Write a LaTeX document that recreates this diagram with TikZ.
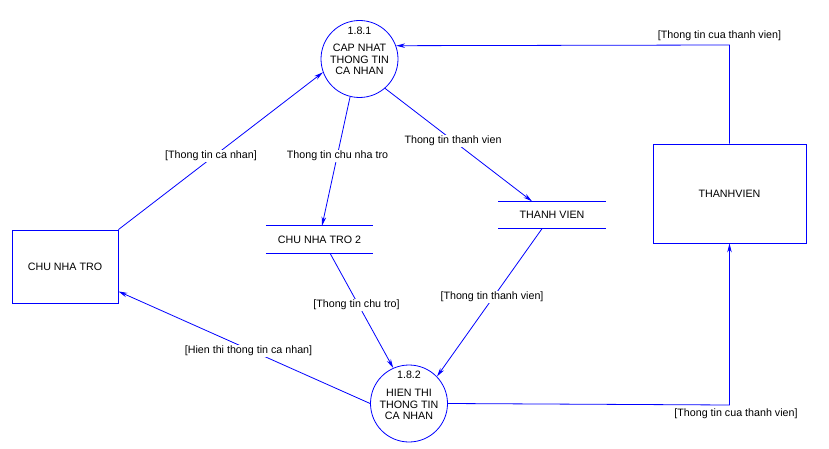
\documentclass[tikz,border=0pt]{standalone}
\usepackage{fontspec}
\setmainfont{Liberation Sans}
\usetikzlibrary{arrows.meta,calc}
\begin{document}
\begin{tikzpicture}[x=1pt,y=-1pt,
  every node/.style={font=\fontsize{10.7}{13}\selectfont, text=black},
  conn/.style={draw=blue, line width=0.8pt},
  flow/.style={conn, -{Stealth[length=9pt,width=4.5pt]}},
  proc/.style={circle, draw=blue, line width=0.8pt, minimum size=77pt, inner sep=0pt},
  ent/.style={rectangle, draw=blue, line width=0.8pt, inner sep=0pt},
  store/.style={rectangle, inner sep=0pt, minimum width=107pt, minimum height=27pt},
  lbl/.style={fill=white, inner sep=1pt},
  ptext/.style={align=center, inner sep=0pt}
]
\useasboundingbox (0,0) rectangle (829,449);

% processes
\node[proc] (p1) at (359.5,59) {};
\node[ptext] (p1n) at (359.5,31) {1.8.1};
\node[ptext] (p1t) at (359.5,59.5) {CAP NHAT\\[-1.3pt]THONG TIN\\[-1.3pt]CA NHAN};
\node[proc] (p2) at (409,403.5) {};
\node[ptext] (p2n) at (409,375) {1.8.2};
\node[ptext] (p2t) at (409,404.5) {HIEN THI\\[-1.3pt]THONG TIN\\[-1.3pt]CA NHAN};

% entities
\node[ent, minimum width=106pt, minimum height=73pt] (cnt) at (65,266.5) {CHU NHA TRO};
\node[ent, minimum width=153pt, minimum height=99pt] (tv) at (729.5,193.5) {THANHVIEN};

% stores
\node[store] (s1) at (319.5,239.5) {CHU NHA TRO 2};
\node[store] (s2) at (552,215) {THANH VIEN};
\draw[conn] (s1.north west) -- (s1.north east) (s1.south west) -- (s1.south east);
\draw[conn] (s2.north west) -- (s2.north east) (s2.south west) -- (s2.south east);

% flows
\draw[flow] (cnt.north east) -- (p1.200);
\draw[flow] (p1.256) -- ([xshift=2.5pt]s1.north);
\draw[flow] (p1.311) -- ([xshift=-20pt]s2.north);
\draw[flow] ([xshift=10.5pt]s1.south) -- (p2.114);
\draw[flow] ([xshift=-10pt]s2.south) -- (p2.44);
\draw[flow] (p2.180) -- ([yshift=12pt]cnt.south east);
\coordinate (c1) at (729.5,45);
\draw[flow] (tv.north) -- (c1) -- (p1.20);
\coordinate (c2) at (729.5,405);
\draw[flow] (p2.0) -- (c2) -- (tv.south);

% labels
\node[lbl] (l1) at (211,156) {[Thong tin ca nhan]};
\node[lbl] (l2) at (337.5,156) {Thong tin chu nha tro};
\node[lbl] (l3) at (453,141) {Thong tin thanh vien};
\node[lbl] (l4) at (356.5,305) {[Thong tin chu tro]};
\node[lbl] (l5) at (492,297) {[Thong tin thanh vien]};
\node[lbl] (l6) at (248.5,351) {[Hien thi thong tin ca nhan]};
\node[lbl] (l7) at (719.5,36) {[Thong tin cua thanh vien]};
\node[lbl] (l8) at (736,414) {[Thong tin cua thanh vien]};
\end{tikzpicture}
\end{document}
